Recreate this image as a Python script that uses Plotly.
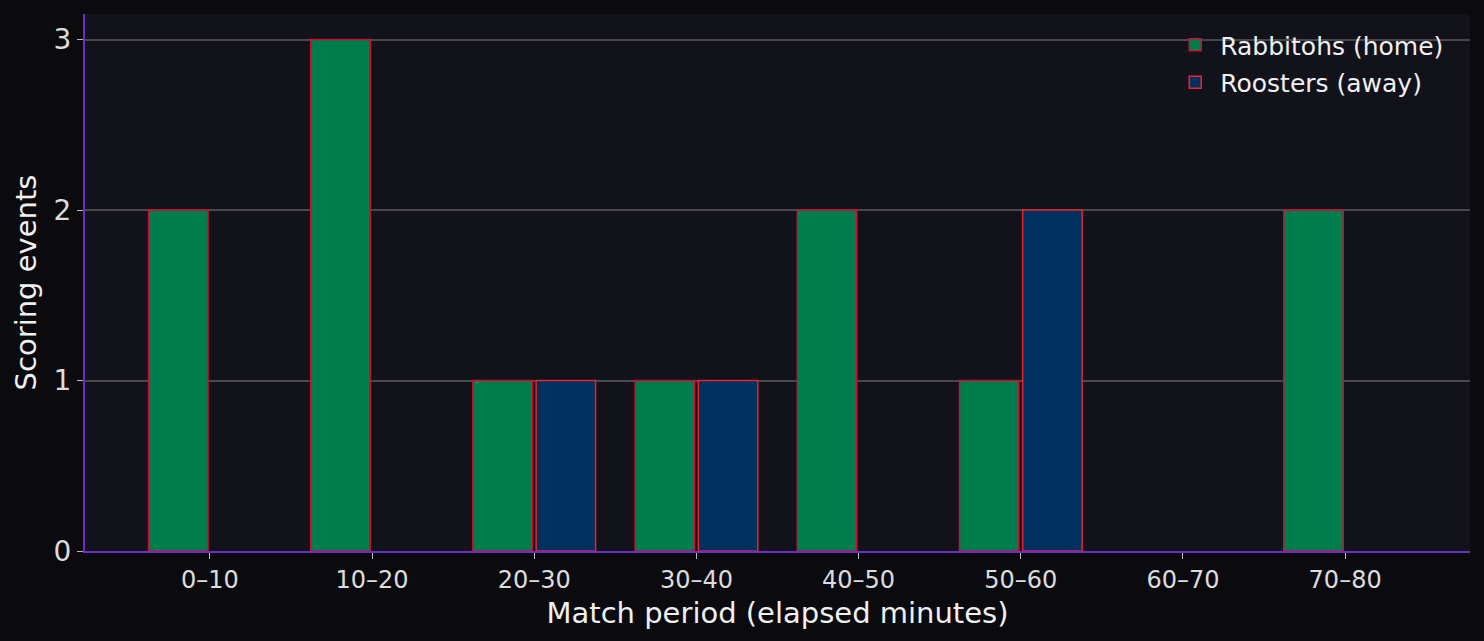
import plotly.graph_objects as go

# match periods and scoring events per team
periods = ["0–10", "10–20", "20–30", "30–40", "40–50", "50–60", "60–70", "70–80"]
home_events = [2, 3, 1, 1, 2, 1, 0, 2]
away_events = [0, 0, 1, 1, 0, 2, 0, 0]

teams = [
    ("Rabbitohs (home)", home_events, "#007d4c", "#d60a30"),
    ("Roosters (away)", away_events, "#00305e", "#e8242c"),
]

fig = go.Figure()
for name, vals, fill, edge in teams:
    # no outline on empty bars so nothing sits on the axis line
    widths = [1.5 if v else 0 for v in vals]
    fig.add_trace(go.Bar(x=periods, y=vals, name=name, offsetgroup=name, legendgroup=name,
                         showlegend=False,
                         marker=dict(color=fill, line=dict(color=edge, width=widths))))
    # legend entry with the outline
    fig.add_trace(go.Bar(x=[None], y=[None], name=name, offsetgroup=name, legendgroup=name,
                         marker=dict(color=fill, line=dict(color=edge, width=1.5))))

fig.update_layout(
    width=1484, height=641,
    barmode="group", bargap=0.22, bargroupgap=0.06,
    paper_bgcolor="#0b0b0f", plot_bgcolor="#12121a",
    font=dict(family="DejaVu Sans", color="#e6e6e6"),
    margin=dict(l=85, r=14, t=14, b=90),
    legend=dict(x=0.985, y=0.985, xanchor="right", yanchor="top", itemwidth=40,
                tracegroupgap=2,
                bgcolor="rgba(0,0,0,0)", font=dict(size=25, color="#f0f0f0")),
    xaxis=dict(range=[-0.77, 7.77], showgrid=False, layer="above traces",
               showline=True, linecolor="#6a2fc2", linewidth=2,
               ticks="outside", ticklen=6, tickcolor="#bbbbbb",
               tickfont=dict(size=24, color="#dcdcdc"),
               title=dict(text="Match period (elapsed minutes)", font=dict(size=29, color="#f0f0f0"), standoff=10)),
    yaxis=dict(range=[0, 3.15], dtick=1, showgrid=True, gridcolor="#48484c", gridwidth=1.5,
               zeroline=False, showline=True, linecolor="#6a2fc2", linewidth=2,
               ticks="outside", ticklen=6, tickcolor="#bbbbbb",
               tickfont=dict(size=28, color="#dcdcdc"),
               title=dict(text="Scoring events", font=dict(size=29, color="#f0f0f0"), standoff=8)),
)

fig.write_html("out.html", config={"displayModeBar": False},
               post_script="document.body.style.margin='0';")
